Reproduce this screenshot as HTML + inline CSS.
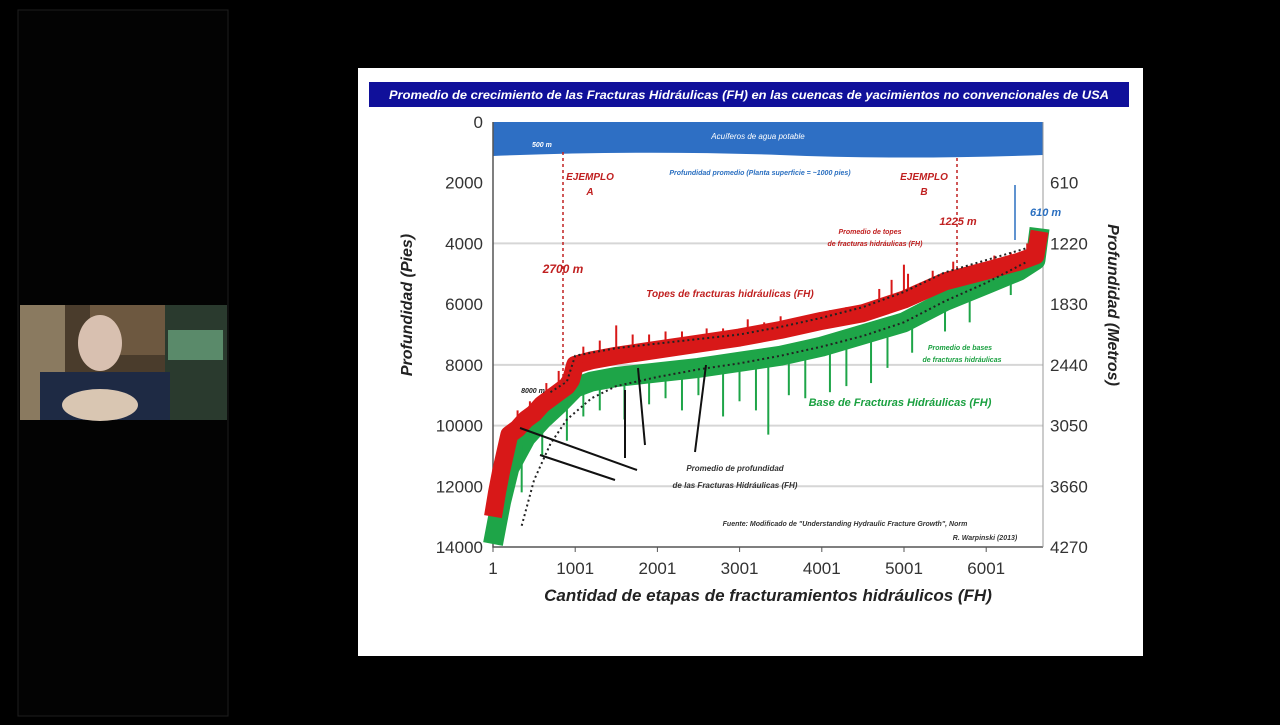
<!DOCTYPE html>
<html><head><meta charset="utf-8"><style>
body{margin:0;background:#000;width:1280px;height:720px;overflow:hidden;font-family:"Liberation Sans",sans-serif}
</style></head><body>
<svg width="1280" height="720" viewBox="0 0 1280 720" xmlns="http://www.w3.org/2000/svg">
<rect x="0" y="0" width="1280" height="720" fill="#000"/>
<rect x="18" y="10" width="210" height="706" fill="#030303" stroke="#1e1e1e"/>
<g>
<rect x="20" y="305" width="207" height="115" fill="#4a3c2c"/>
<rect x="20" y="305" width="45" height="115" fill="#8a7a60"/>
<rect x="90" y="305" width="75" height="50" fill="#6d5840"/>
<rect x="165" y="305" width="62" height="115" fill="#2a3a2e"/>
<rect x="168" y="330" width="55" height="30" fill="#5a8a6a"/>
<rect x="40" y="372" width="130" height="48" fill="#1e2a44"/>
<ellipse cx="100" cy="343" rx="22" ry="28" fill="#d8c0b0"/>
<ellipse cx="100" cy="405" rx="38" ry="16" fill="#d9c6b2"/>
</g>
<rect x="358" y="68" width="785" height="588" fill="#fff"/>
<rect x="369" y="82" width="760" height="25" fill="#10109a"/>
<text x="749" y="99" fill="#fff" font-size="12" font-style="italic" font-weight="bold" text-anchor="middle" textLength="720" lengthAdjust="spacingAndGlyphs">Promedio de crecimiento de las Fracturas Hidráulicas (FH) en las cuencas de yacimientos no convencionales de USA</text>
<g id="chart"></g>
</svg>
<script>
const xTicks=[1,1001,2001,3001,4001,5001,6001];
const yTicks=[0,2000,4000,6000,8000,10000,12000,14000];
const yRight=[610,1220,1830,2440,3050,3660,4270];
const topStages=[1,50,100,200,300,400,500,600,700,800,900,950,1000,1200,1500,2000,2500,3000,3500,4000,4500,5000,5500,6000,6400,6600,6650];
const topDepths=[13000,12200,11500,10300,10100,9800,9600,9300,9100,8900,8700,8500,8000,7850,7700,7500,7300,7100,6850,6550,6300,5850,5250,4900,4600,4400,3600];
const baseStages=[1,50,100,200,300,400,500,600,800,1000,1200,1500,2000,2500,3000,3500,4000,4500,5000,5500,6000,6400,6600,6650];
const baseDepths=[13900,13200,12500,11400,10900,10400,10100,9800,9300,8750,8550,8400,8250,8100,7900,7700,7400,7000,6600,5900,5350,4900,4550,3500];
const redSpikeStages=[150,300,450,650,800,1100,1300,1500,1700,1900,2100,2300,2600,2800,3100,3300,3500,3800,4100,4300,4500,4700,4850,5000,5050,5200,5350,5600,5800,6100,6300,6500];
const redSpikeDepths=[10300,9500,9200,8600,8200,7400,7200,6700,7000,7000,6900,6900,6800,6800,6500,6600,6400,6400,6200,6100,6000,5500,5200,4700,5000,5300,4900,4600,4800,4400,4300,4000];
const greenSpikeStages=[150,350,600,900,1100,1300,1600,1900,2100,2300,2500,2800,3000,3200,3350,3600,3800,4100,4300,4600,4800,5100,5500,5800,6300];
const greenSpikeDepths=[13300,12200,11000,10500,9700,9500,9800,9300,9100,9500,9000,9700,9200,9500,10300,9000,9100,8900,8700,8600,8100,7600,6900,6600,5700];
const avgTopStages=[700,900,1000,1500,2000,2500,3000,3500,4000,4500,5000,5500,6000,6500];
const avgTopDepths=[8900,8550,7700,7450,7300,7150,7000,6750,6450,6100,5600,4950,4550,4150];
const avgBaseStages=[350,500,700,900,1200,1500,2000,2500,3000,3500,4000,4500,5000,5500,6000,6500];
const avgBaseDepths=[13300,11800,10600,9800,9100,8700,8400,8150,7950,7700,7400,7050,6600,5900,5300,4600];
const X=s=>493+(s-1)/1000*82.2, Y=d=>122+d/14000*425;
const NS="http://www.w3.org/2000/svg", g=document.getElementById('chart');
function el(t,a,txt){const e=document.createElementNS(NS,t);for(const k in a)e.setAttribute(k,a[k]);if(txt!==undefined)e.textContent=txt;g.appendChild(e);return e;}
let b=el('path',{d:`M493 122 H1043 V155 Q900 160 780 155 Q640 150 493 156 Z`,fill:'#2e6fc4'});


let t=el('text',{x:758,y:139,fill:'#fff','font-size':8,'font-style':'italic','text-anchor':'middle'},'Acuíferos de agua potable');


[4000,8000,10000,12000].forEach(d=>{let l=el('line',{x1:493,x2:1043,y1:Y(d),y2:Y(d),stroke:'#d6d6d6','stroke-width':2});

});
let ax=el('path',{d:'M493 122 V547 H1043',stroke:'#555',fill:'none','stroke-width':1.5});


let ar=el('line',{x1:1043,x2:1043,y1:122,y2:547,stroke:'#999'});


yTicks.forEach(d=>{let tx=el('text',{x:483,y:Y(d)+6,'font-size':17,'text-anchor':'end',fill:'#333'},String(d));

});
yRight.forEach((m,i)=>{let tx=el('text',{x:1050,y:Y((i+1)*2000)+6,'font-size':17,fill:'#333'},String(m));

});
xTicks.forEach(s=>{el('line',{x1:X(s),x2:X(s),y1:547,y2:552,stroke:'#555'});
let tx=el('text',{x:X(s),y:574,'font-size':17,'text-anchor':'middle',fill:'#333'},String(s));

});
function series(st,dp,col,w,name){const p=st.map((s,i)=>X(s)+','+Y(dp[i])).join(' ');
let e=el('polyline',{points:p,fill:'none',stroke:col,'stroke-width':w,'stroke-linejoin':'round'});

return e;}
function spikes(st,dp,baseSt,baseDp,col,name){st.forEach((s,i)=>{let j=0;while(j<baseSt.length-1&&baseSt[j+1]<s)j++;const f=(s-baseSt[j])/(baseSt[j+1]-baseSt[j]);const bd=baseDp[j]+f*(baseDp[j+1]-baseDp[j]);
let e=el('line',{x1:X(s),x2:X(s),y1:Y(bd),y2:Y(dp[i]),stroke:col,'stroke-width':2});

});}
series(baseStages,baseDepths,'#1ea548',20,'base-fractures-series');
spikes(greenSpikeStages,greenSpikeDepths,baseStages,baseDepths,'#1ea548','green-spike');
series(topStages,topDepths,'#d81818',18,'top-fractures-series');
spikes(redSpikeStages,redSpikeDepths,topStages,topDepths,'#d81818','red-spike');
series(avgTopStages,avgTopDepths,'#222',2,'avg-top-dotted').setAttribute('stroke-dasharray','2 3');
series(avgBaseStages,avgBaseDepths,'#222',2,'avg-base-dotted').setAttribute('stroke-dasharray','2 3');
function txt(x,y,s,fs,col,name,anchor){let e=el('text',{x,y,'font-size':fs,fill:col,'font-style':'italic','font-weight':'bold','text-anchor':anchor||'start'},s);

}
el('line',{x1:563,x2:563,y1:152,y2:385,stroke:'#c02020','stroke-dasharray':'3 3','stroke-width':1.5});
el('line',{x1:957,x2:957,y1:158,y2:268,stroke:'#c02020','stroke-dasharray':'3 3','stroke-width':1.5});
el('line',{x1:1015,x2:1015,y1:185,y2:240,stroke:'#2a6fc0','stroke-width':1.5});
txt(590,180,'EJEMPLO',10,'#c02020','example-a-label','middle');txt(590,195,'A',10,'#c02020','example-a-letter','middle');
txt(924,180,'EJEMPLO',10,'#c02020','example-b-label','middle');txt(924,195,'B',10,'#c02020','example-b-letter','middle');
txt(563,273,'2700 m',12,'#c02020','2700m-label','middle');
txt(958,225,'1225 m',11,'#c02020','1225m-label','middle');
txt(1030,216,'610 m',11,'#2a6fc0','610m-label');
txt(760,175,'Profundidad promedio (Planta superficie = ~1000 pies)',7,'#2a6fc0','avg-depth-note','middle');
txt(730,297,'Topes de fracturas hidráulicas (FH)',10,'#c02020','tops-label','middle');
txt(870,234,'Promedio de topes',7,'#c02020','avg-tops-label','middle');txt(875,246,'de fracturas hidráulicas (FH)',7,'#c02020','avg-tops-label2','middle');
txt(960,350,'Promedio de bases',7,'#1aa040','avg-bases-label','middle');txt(962,362,'de fracturas hidráulicas',7,'#1aa040','avg-bases-label2','middle');
txt(900,406,'Base de Fracturas Hidráulicas (FH)',11,'#1aa040','bases-label','middle');
txt(735,471,'Promedio de profundidad',8,'#333','avg-depth-label','middle');txt(735,488,'de las Fracturas Hidráulicas (FH)',8,'#333','avg-depth-label2','middle');
txt(845,526,'Fuente: Modificado de "Understanding Hydraulic Fracture Growth", Norm',7,'#333','source-note','middle');
txt(985,540,'R. Warpinski (2013)',7,'#333','source-note2','middle');
txt(533,393,'8000 m',7,'#222','8000-label','middle');
txt(532,147,'500 m',7,'#fff','500m-label');
[[625,458,625,390],[645,445,638,368],[695,452,706,365],[637,470,520,428],[615,480,540,455]].forEach(a=>{let e=el('line',{x1:a[0],y1:a[1],x2:a[2],y2:a[3],stroke:'#111','stroke-width':2});

});
txt(768,601,'Cantidad de etapas de fracturamientos hidráulicos (FH)',17,'#222','x-axis-title','middle');
let yt=el('text',{x:0,y:0,'font-size':16,'font-weight':'bold','font-style':'italic',fill:'#222','text-anchor':'middle',transform:'translate(412,305) rotate(-90)'},'Profundidad (Pies)');


let yt2=el('text',{x:0,y:0,'font-size':16,'font-weight':'bold','font-style':'italic',fill:'#222','text-anchor':'middle',transform:'translate(1108,305) rotate(90)'},'Profundidad (Metros)');


</script>
</body></html>
